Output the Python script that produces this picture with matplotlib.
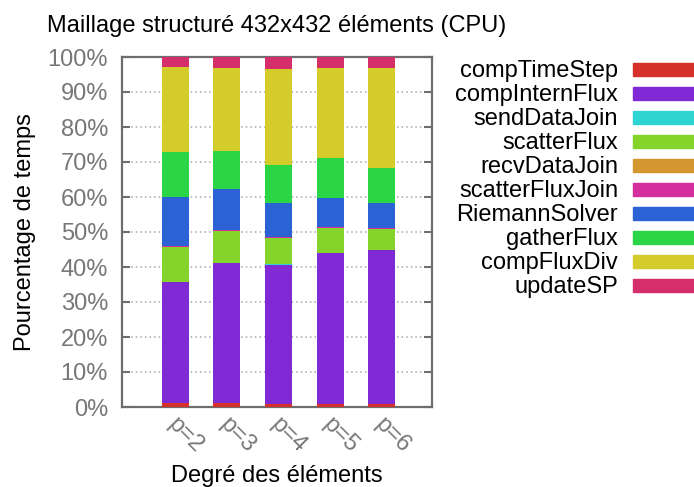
import matplotlib
matplotlib.use("Agg")
import matplotlib.pyplot as plt
import numpy as np
from matplotlib.patches import Rectangle

plt.rcParams['font.family'] = ['Liberation Sans', 'DejaVu Sans']

categories = ["p=2", "p=3", "p=4", "p=5", "p=6"]
series_names = ["compTimeStep", "compInternFlux", "sendDataJoin", "scatterFlux",
                "recvDataJoin", "scatterFluxJoin", "RiemannSolver", "gatherFlux",
                "compFluxDiv", "updateSP"]
compTimeStep    = [1.1, 1.1, 1.0, 1.0, 1.0]
compInternFlux  = [34.7, 40.1, 39.7, 42.9, 43.9]
sendDataJoin    = [0.05, 0.05, 0.05, 0.05, 0.05]
scatterFlux     = [9.9, 9.0, 7.6, 7.2, 6.0]
recvDataJoin    = [0.05, 0.05, 0.05, 0.05, 0.05]
scatterFluxJoin = [0.3, 0.2, 0.3, 0.2, 0.2]
RiemannSolver   = [14.0, 11.9, 9.6, 8.4, 7.1]
gatherFlux      = [12.8, 10.8, 10.8, 11.3, 9.9]
compFluxDiv     = [24.2, 23.7, 27.5, 25.8, 28.6]
updateSP        = [2.9, 3.1, 3.4, 3.1, 3.2]
series = [compTimeStep, compInternFlux, sendDataJoin, scatterFlux, recvDataJoin,
          scatterFluxJoin, RiemannSolver, gatherFlux, compFluxDiv, updateSP]
colors = ["#d6302b", "#802ad6", "#2ed4d2", "#84d42c", "#d4962e",
          "#d42e9f", "#2b63d4", "#2bd646", "#d4cc2b", "#d42f6b"]
yticks = list(range(0, 101, 10))
ytick_labels = [f"{v}%" for v in yticks]

FS = 17
W, H = 694, 487
fig = plt.figure(figsize=(W / 100, H / 100), dpi=100)
L, R, T, B = 122, 432, 57, 407
ax = fig.add_axes([L / W, 1 - B / H, (R - L) / W, (B - T) / H])

x = np.arange(len(categories))
bottom = np.zeros(len(categories))
for vals, c, name in zip(series, colors, series_names):
    v = np.array(vals, dtype=float)
    ax.bar(x, v, width=0.52, bottom=bottom, color=c, edgecolor='none', zorder=3)
    bottom += v

ax.set_xlim(-1.03, 4.97)
ax.set_ylim(0, 100)
ax.set_yticks(yticks)
ax.set_yticklabels(ytick_labels)
ax.set_xticks(x)
ax.set_xticklabels([])
ax.tick_params(axis='x', length=0)
ax.tick_params(axis='y', direction='in', length=6, width=1.5, color='#6e6e6e',
               labelcolor='#777777', labelsize=FS, pad=10, right=True)
for s in ax.spines.values():
    s.set_color('#6e6e6e')
    s.set_linewidth(1.6)
for yv in yticks[1:-1]:
    ax.axhline(yv, color='#a8a8a8', lw=1.1, ls=(0, (1, 2)), zorder=1)

# rotated category labels
for xi, lab in zip(x, categories):
    ax.annotate(lab, xy=(xi, 0), xycoords='data', xytext=(-4, -14),
                textcoords='offset pixels', rotation=-45, rotation_mode='anchor',
                ha='left', va='center', color='#777777', fontsize=FS)

ax.set_title("Maillage structuré 432x432 éléments (CPU)", fontsize=FS,
             color='black', pad=18)
fig.text(277 / W, 1 - 482 / H, "Degré des éléments", ha='center', va='baseline',
         fontsize=FS)
fig.text(25 / W, 1 - 232 / H, "Pourcentage de temps", ha='center', va='center',
         rotation=90, fontsize=FS)

# legend
for i, (name, c) in enumerate(zip(series_names, colors)):
    yc = 69 + 24.1 * i
    fig.text(618 / W, 1 - (yc + 7.5) / H, name, ha='right', va='baseline',
             fontsize=FS)
    fig.patches.append(Rectangle((633 / W, 1 - (yc + 6.5) / H), 61 / W, 13 / H,
                                 transform=fig.transFigure, color=c))

fig.savefig("out.png", dpi=100)
